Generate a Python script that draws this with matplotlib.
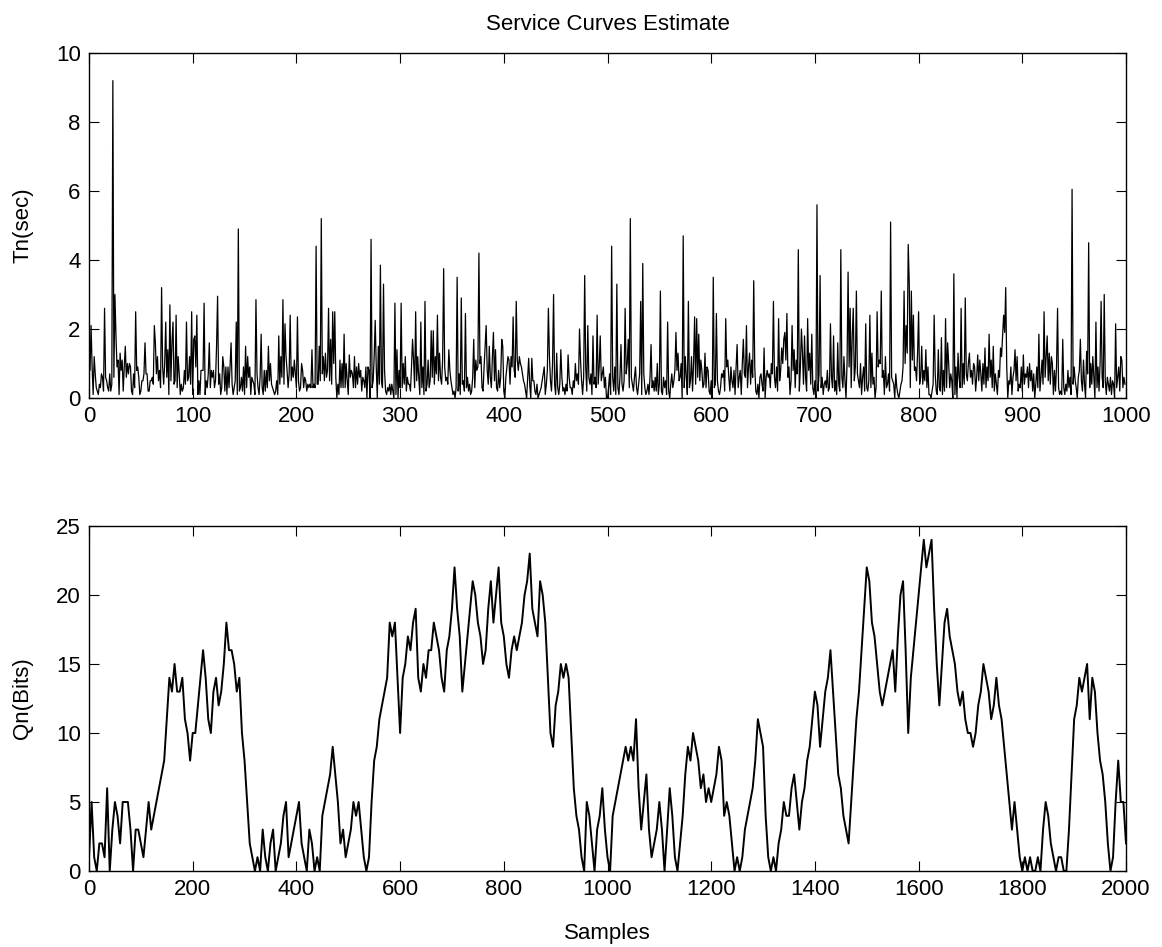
import matplotlib
matplotlib.use("Agg")
import matplotlib.pyplot as plt

# Tn(sec), samples 0..999 (20 per row)
tn_values = [
    1.7, 0.8, 2.1, 0.9, 0.1, 1.2, 0.7, 0.3, 0.2, 0.1, 0.4, 0.3, 0.7, 0.6, 0.2, 2.6, 0.6, 0.5, 0.3, 0.2,
    0.7, 0.2, 0.4, 9.2, 0.6, 3.0, 1.8, 0.9, 1.1, 0.1, 1.3, 0.8, 1.1, 0.2, 0.9, 1.5, 0.6, 1.0, 0.7, 1.0,
    0.9, 0.2, 0.1, 0.7, 0.3, 2.5, 0.8, 0.9, 0.6, 0.1, 0.2, 0.5, 0.5, 0.7, 1.6, 0.7, 0.7, 0.2, 0.2, 0.5,
    0.5, 0.6, 0.4, 2.1, 1.6, 0.7, 1.2, 0.5, 0.8, 0.3, 3.2, 0.9, 0.4, 1.0, 2.2, 0.6, 1.4, 0.1, 2.7, 0.5,
    1.6, 2.2, 0.4, 0.5, 2.4, 0.3, 1.2, 0.7, 0.1, 0.4, 0.2, 0.3, 0.8, 0.4, 2.2, 0.5, 0.6, 1.2, 0.4, 2.5,
    0.1, 1.7, 1.8, 0.9, 2.4, 0.1, 0.5, 0.1, 0.8, 0.8, 0.8, 2.75, 0.1, 0.5, 0.3, 0.7, 1.6, 0.3, 0.8, 0.6,
    0.8, 0.3, 0.5, 1.5, 2.95, 0.4, 0.7, 0.1, 0.3, 1.2, 0.9, 0.2, 0.9, 0.1, 0.9, 0.3, 0.9, 1.6, 0.4, 0.1,
    0.3, 0.5, 2.2, 0.1, 4.9, 0.2, 0.3, 0.6, 0.2, 0.9, 0.1, 1.5, 0.3, 1.2, 0.6, 0.9, 0.1, 0.6, 0.5, 0.4,
    0.1, 2.85, 0.7, 0.3, 0.1, 0.6, 1.85, 0.3, 0.1, 0.8, 0.2, 0.8, 0.3, 1.5, 0.5, 1.0, 0.4, 0.3, 0.2, 0.1,
    0.2, 0.5, 0.1, 1.8, 0.4, 1.2, 0.6, 2.85, 0.4, 2.15, 1.2, 0.8, 0.3, 0.7, 2.4, 0.5, 0.9, 0.6, 1.1, 0.7,
    0.3, 2.35, 0.5, 0.2, 0.3, 1.0, 0.8, 0.3, 0.6, 0.5, 0.2, 0.4, 0.3, 0.4, 0.3, 1.4, 0.3, 0.4, 0.3, 4.4,
    0.4, 0.4, 1.5, 0.5, 5.2, 0.7, 1.2, 0.5, 1.3, 0.6, 0.8, 2.6, 0.5, 1.7, 0.4, 2.5, 1.0, 2.5, 0.6, 0.0,
    0.4, 0.1, 1.1, 0.3, 1.0, 0.3, 1.85, 0.3, 1.0, 0.5, 0.1, 1.25, 0.6, 0.8, 0.7, 0.3, 1.2, 0.3, 0.9, 0.4,
    1.0, 0.6, 0.8, 0.2, 0.6, 0.5, 0.3, 0.9, 0.0, 0.9, 0.8, 0.0, 4.6, 0.3, 0.5, 1.2, 2.25, 0.9, 0.0, 1.5,
    0.4, 3.85, 0.5, 0.3, 3.3, 0.8, 0.2, 0.1, 0.3, 0.2, 0.4, 0.1, 0.4, 0.2, 0.0, 2.75, 0.1, 1.4, 0.0, 0.8,
    0.3, 2.75, 0.3, 1.0, 0.4, 1.2, 0.2, 0.6, 0.4, 0.4, 0.2, 0.9, 1.7, 1.1, 0.3, 2.5, 0.5, 1.2, 0.6, 0.1,
    2.2, 0.3, 0.9, 0.1, 2.8, 0.2, 0.4, 1.1, 0.3, 0.5, 1.95, 0.6, 1.95, 0.4, 1.2, 0.7, 2.4, 0.5, 1.3, 0.6,
    0.4, 1.1, 3.75, 0.9, 0.5, 0.6, 0.4, 1.4, 0.8, 0.5, 0.3, 0.1, 0.2, 0.0, 0.3, 3.5, 0.2, 0.7, 0.1, 2.9,
    0.4, 0.5, 0.2, 2.45, 0.3, 0.6, 0.2, 0.4, 0.1, 0.2, 0.6, 1.7, 0.3, 1.1, 0.8, 0.9, 4.2, 1.0, 1.2, 0.3,
    0.2, 0.9, 1.5, 2.1, 0.8, 0.4, 1.5, 0.6, 0.3, 1.2, 1.9, 0.5, 1.4, 0.3, 0.2, 0.8, 0.3, 0.6, 1.7, 1.5,
    0.2, 0.0, 0.6, 0.9, 1.2, 1.1, 0.4, 1.2, 0.9, 2.35, 0.8, 0.6, 2.8, 1.1, 0.8, 1.2, 1.0, 0.9, 0.7, 0.5,
    0.4, 0.2, 0.0, 0.6, 1.15, 0.4, 0.0, 1.15, 0.5, 0.5, 0.2, 0.1, 0.4, 0.0, 0.1, 0.2, 0.3, 0.5, 0.7, 0.9,
    0.1, 0.4, 0.8, 2.6, 1.2, 0.5, 0.2, 1.0, 3.0, 0.4, 0.1, 1.3, 0.3, 0.1, 0.4, 1.4, 0.6, 0.2, 0.3, 0.1,
    0.4, 0.2, 1.25, 0.6, 0.3, 0.3, 0.1, 0.5, 0.3, 1.0, 0.5, 0.7, 0.4, 2.0, 1.1, 0.5, 0.1, 0.6, 3.55, 0.9,
    0.2, 2.1, 0.6, 0.4, 0.7, 0.1, 1.8, 0.4, 0.6, 0.3, 2.4, 0.4, 0.9, 1.8, 0.5, 0.7, 0.9, 0.3, 0.6, 0.0,
    0.0, 0.3, 0.7, 0.1, 4.4, 0.6, 0.2, 0.9, 0.1, 3.3, 0.3, 0.1, 0.6, 1.55, 0.4, 0.2, 0.5, 2.6, 0.7, 1.0,
    1.7, 0.3, 5.2, 0.6, 0.4, 0.2, 0.6, 0.9, 0.3, 0.1, 0.4, 0.7, 2.8, 0.1, 3.9, 0.7, 0.3, 0.1, 0.2, 0.4,
    0.1, 0.6, 1.55, 0.3, 0.5, 0.2, 0.6, 0.2, 1.0, 0.1, 0.4, 3.1, 0.2, 0.1, 0.6, 0.3, 0.5, 0.1, 2.2, 0.2,
    0.0, 0.4, 0.7, 0.3, 0.5, 0.8, 1.9, 0.8, 1.3, 0.5, 0.6, 1.0, 0.0, 4.7, 0.3, 1.2, 0.6, 0.1, 2.8, 0.3,
    0.5, 1.2, 0.2, 1.0, 2.35, 0.4, 2.3, 0.6, 1.85, 0.5, 1.1, 0.8, 0.3, 0.4, 1.3, 0.3, 0.9, 0.8, 0.2, 0.1,
    0.5, 0.0, 3.5, 0.3, 0.4, 2.45, 0.5, 0.2, 0.1, 0.3, 0.7, 0.6, 0.8, 0.2, 2.3, 0.9, 1.1, 0.6, 0.2, 0.9,
    0.5, 0.3, 0.8, 0.1, 0.9, 1.55, 0.3, 0.6, 0.8, 0.1, 1.0, 1.7, 0.7, 0.6, 2.1, 0.3, 0.9, 1.3, 0.4, 1.1,
    0.6, 3.4, 0.9, 0.2, 0.1, 0.4, 0.0, 0.6, 0.7, 0.4, 0.2, 1.45, 0.0, 0.6, 0.8, 0.6, 0.7, 0.3, 1.0, 0.7,
    2.8, 0.6, 0.3, 0.9, 0.2, 2.3, 0.5, 0.8, 1.45, 1.0, 1.7, 1.9, 1.1, 2.45, 0.6, 0.9, 0.1, 0.5, 2.1, 0.8,
    1.4, 0.3, 1.1, 0.7, 4.3, 0.2, 0.9, 2.0, 1.3, 0.4, 1.8, 0.6, 0.2, 2.3, 0.8, 1.3, 0.4, 1.85, 0.3, 0.1,
    0.5, 0.0, 5.6, 0.2, 0.7, 3.55, 0.3, 0.6, 0.1, 0.4, 0.5, 0.3, 0.8, 0.2, 0.3, 2.15, 0.6, 0.3, 1.8, 0.2,
    0.5, 0.1, 1.6, 0.4, 0.2, 4.3, 0.6, 0.3, 1.2, 0.5, 0.0, 1.0, 3.65, 0.9, 2.6, 0.3, 1.8, 2.6, 0.5, 0.9,
    3.1, 0.7, 0.5, 0.3, 1.0, 0.1, 0.6, 0.9, 0.2, 2.15, 0.3, 0.2, 0.5, 2.4, 0.3, 1.3, 0.4, 0.6, 0.0, 0.3,
    2.5, 0.9, 1.1, 1.0, 3.1, 0.6, 0.8, 0.1, 1.2, 0.3, 0.4, 0.7, 0.2, 5.1, 0.6, 0.5, 0.4, 0.0, 0.7, 0.3,
    0.1, 0.0, 0.2, 0.4, 0.5, 0.9, 3.1, 1.0, 2.1, 1.3, 4.45, 3.3, 0.3, 3.1, 1.1, 2.4, 0.8, 0.9, 0.5, 1.3,
    2.5, 0.4, 0.6, 1.5, 0.4, 0.8, 0.5, 1.4, 0.3, 0.9, 0.1, 0.1, 0.0, 0.2, 0.4, 2.4, 0.7, 0.2, 0.1, 1.4,
    0.3, 0.2, 1.75, 0.1, 0.8, 0.2, 2.3, 0.3, 1.6, 1.0, 0.3, 0.7, 0.5, 0.0, 3.6, 0.1, 0.9, 0.0, 1.3, 0.6,
    0.3, 2.6, 0.3, 1.0, 0.4, 2.9, 0.7, 0.5, 1.0, 1.3, 0.6, 0.8, 0.4, 1.0, 0.9, 0.2, 0.6, 1.25, 0.5, 1.1,
    0.7, 0.2, 1.0, 0.4, 1.45, 0.3, 0.9, 0.5, 1.85, 0.6, 1.1, 0.3, 1.5, 0.2, 0.7, 0.4, 0.1, 0.8, 0.6, 1.45,
    1.2, 1.8, 2.4, 1.9, 3.2, 0.9, 0.0, 0.5, 0.4, 0.9, 0.1, 0.6, 0.8, 1.4, 0.5, 1.2, 0.2, 0.4, 0.3, 0.9,
    0.2, 1.25, 0.4, 0.7, 0.6, 0.9, 0.3, 1.0, 0.5, 0.8, 0.2, 0.7, 0.0, 0.4, 0.9, 0.3, 1.85, 0.2, 0.6, 1.1,
    0.4, 2.5, 0.6, 1.2, 1.8, 0.5, 1.3, 0.4, 1.2, 1.0, 0.1, 0.8, 0.2, 0.9, 2.6, 0.3, 0.1, 0.2, 0.1, 1.7,
    0.3, 0.1, 0.4, 0.2, 0.8, 0.3, 0.6, 0.1, 6.05, 0.4, 0.9, 0.5, 0.3, 0.0, 0.6, 0.8, 1.7, 0.5, 0.2, 1.1,
    0.4, 0.0, 1.35, 0.7, 4.5, 0.3, 1.0, 0.4, 1.2, 0.6, 0.0, 2.2, 0.3, 0.9, 0.2, 1.0, 2.8, 0.6, 0.3, 3.0,
    0.5, 0.1, 0.6, 0.4, 0.2, 0.6, 0.1, 0.5, 0.4, 0.0, 2.15, 0.3, 0.6, 0.9, 0.2, 1.2, 1.1, 0.3, 0.6, 0.4,
]
tn_samples = list(range(len(tn_values)))

# Qn(Bits), read every 5 samples, 0..2000 (20 per row)
qn_values = [
    1, 5, 1, 0, 2, 2, 1, 6, 0, 3, 5, 4, 2, 5, 5, 5, 3, 0, 3, 3,
    2, 1, 3, 5, 3, 4, 5, 6, 7, 8, 11, 14, 13, 15, 13, 13, 14, 11, 10, 8,
    10, 10, 12, 14, 16, 14, 11, 10, 13, 14, 12, 13, 15, 18, 16, 16, 15, 13, 14, 10,
    8, 5, 2, 1, 0, 1, 0, 3, 1, 0, 2, 3, 0, 1, 2, 4, 5, 1, 2, 3,
    4, 5, 2, 1, 0, 3, 2, 0, 1, 0, 4, 5, 6, 7, 9, 7, 5, 2, 3, 1,
    2, 3, 5, 4, 5, 3, 1, 0, 1, 5, 8, 9, 11, 12, 13, 14, 18, 17, 18, 14,
    10, 14, 15, 17, 16, 18, 19, 14, 13, 15, 14, 16, 16, 18, 17, 16, 14, 13, 16, 17,
    19, 22, 19, 17, 13, 15, 17, 19, 21, 20, 18, 17, 15, 16, 19, 21, 18, 20, 22, 18,
    17, 15, 14, 16, 17, 16, 17, 18, 20, 21, 23, 19, 18, 17, 21, 20, 18, 14, 10, 9,
    12, 13, 15, 14, 15, 14, 10, 6, 4, 3, 1, 0, 5, 4, 2, 0, 3, 4, 6, 3,
    1, 0, 4, 5, 6, 7, 8, 9, 8, 9, 8, 11, 6, 3, 5, 7, 3, 1, 2, 3,
    5, 3, 0, 3, 6, 4, 1, 0, 2, 4, 7, 9, 8, 10, 9, 8, 6, 7, 5, 6,
    5, 6, 7, 9, 8, 4, 5, 4, 2, 0, 1, 0, 1, 3, 4, 5, 6, 8, 11, 10,
    9, 4, 1, 0, 1, 0, 2, 3, 5, 4, 4, 6, 7, 5, 3, 5, 6, 8, 9, 11,
    13, 12, 9, 11, 13, 14, 16, 13, 10, 7, 6, 4, 3, 2, 5, 8, 11, 13, 16, 19,
    22, 21, 18, 17, 15, 13, 12, 13, 14, 15, 16, 13, 17, 20, 21, 16, 10, 14, 16, 18,
    20, 22, 24, 22, 23, 24, 19, 15, 12, 15, 18, 19, 17, 16, 15, 13, 12, 13, 11, 10,
    10, 9, 10, 12, 13, 15, 14, 13, 11, 12, 14, 12, 11, 9, 7, 5, 3, 5, 3, 1,
    0, 1, 0, 1, 0, 0, 1, 0, 3, 5, 4, 2, 1, 0, 1, 1, 0, 0, 3, 7,
    11, 12, 14, 13, 14, 15, 11, 14, 13, 10, 8, 7, 5, 2, 0, 1, 5, 8, 5, 5,
    2,
]
qn_samples = [5 * i for i in range(len(qn_values))]

tn_xticks = list(range(0, 1001, 100))
tn_yticks = [0, 2, 4, 6, 8, 10]
qn_xticks = list(range(0, 2001, 200))
qn_yticks = [0, 5, 10, 15, 20, 25]

W, H = 1162, 947


def style_axes(ax):
    ax.tick_params(direction="in", length=7, width=0.8, top=True, right=True,
                   labelsize=16, pad=6)
    for sp in ax.spines.values():
        sp.set_linewidth(1.0)


def main() -> None:
    plt.rcParams["font.family"] = ["Liberation Sans", "DejaVu Sans"]

    fig = plt.figure(figsize=(W / 100, H / 100), dpi=100)
    left = 89 / W
    width = 1037 / W
    height = 345 / H

    ax1 = fig.add_axes([left, 1 - 398 / H, width, height])
    ax1.plot(tn_samples, tn_values, color="black", linewidth=0.9)
    ax1.set_xlim(0, 1000)
    ax1.set_ylim(0, 10)
    ax1.set_xticks(tn_xticks)
    ax1.set_yticks(tn_yticks)
    style_axes(ax1)

    ax2 = fig.add_axes([left, 1 - 871 / H, width, height])
    ax2.plot(qn_samples, qn_values, color="black", linewidth=1.4)
    ax2.set_xlim(0, 2000)
    ax2.set_ylim(0, 25)
    ax2.set_xticks(qn_xticks)
    ax2.set_yticks(qn_yticks)
    style_axes(ax2)

    cx = left + width / 2
    fig.text(cx, 1 - 25 / H, "Service Curves Estimate", ha="center", va="center", fontsize=16)
    fig.text(23 / W, 1 - 225 / H, "Tn(sec)", rotation=90, ha="center", va="center", fontsize=16)
    fig.text(23 / W, 1 - 698 / H, "Qn(Bits)", rotation=90, ha="center", va="center", fontsize=16)
    fig.text(cx, 1 - 933 / H, "Samples", ha="center", va="center", fontsize=16)

    fig.savefig("out.png", dpi=100)
    plt.close(fig)


if __name__ == "__main__":
    main()
